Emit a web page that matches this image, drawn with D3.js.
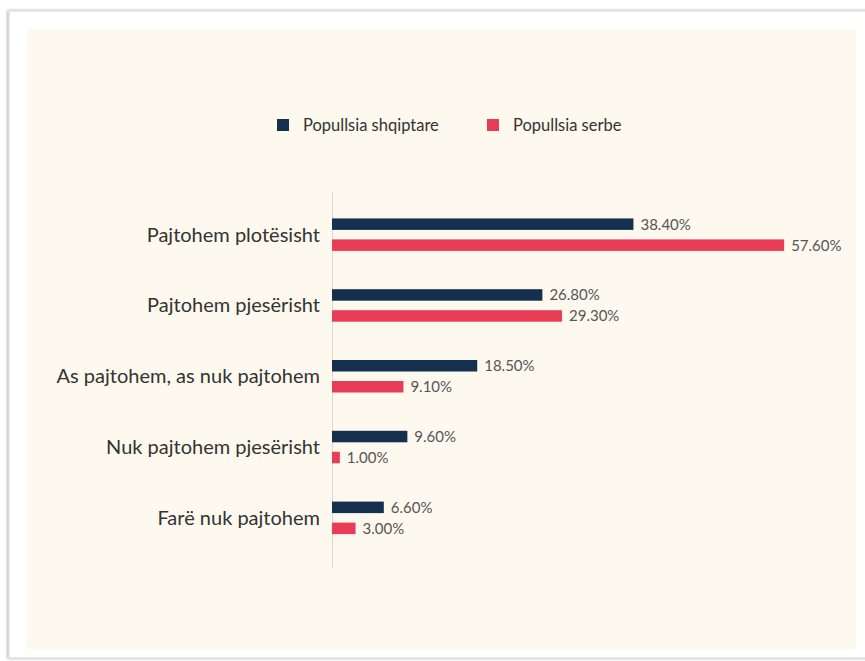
<!DOCTYPE html>
<html>
<head>
<meta charset="utf-8">
<script src="https://cdn.jsdelivr.net/npm/d3@7"></script>
<style>
  html, body { margin: 0; padding: 0; background: #ffffff; }
  svg { display: block; }
</style>
</head>
<body>
<div id="chart"></div>
<script>
// Data
const categories = [
  "Pajtohem plotësisht",
  "Pajtohem pjesërisht",
  "As pajtohem, as nuk pajtohem",
  "Nuk pajtohem pjesërisht",
  "Farë nuk pajtohem"
];
const seriesNames = ["Popullsia shqiptare", "Popullsia serbe"];
const albanianValues = [38.4, 26.8, 18.5, 9.6, 6.6];
const serbianValues = [57.6, 29.3, 9.1, 1.0, 3.0];

// Configuration
const svgWidth = 865;
const svgHeight = 661;
const colors = ["#15304f", "#e93c57"];
const fontFamily = "Lato, 'Noto Sans', sans-serif";

const svg = d3.select("#chart")
  .append("svg")
  .attr("width", svgWidth)
  .attr("height", svgHeight);

// card + shadow
const defs = svg.append("defs");
const shadow = defs.append("filter").attr("id", "shadow")
  .attr("x", "-5%").attr("y", "-5%").attr("width", "110%").attr("height", "110%");
shadow.append("feDropShadow")
  .attr("dx", -1).attr("dy", 0).attr("stdDeviation", 1.5)
  .attr("flood-color", "#000").attr("flood-opacity", 0.35);

svg.append("rect")
  .attr("x", 9).attr("y", 11)
  .attr("width", svgWidth + 20).attr("height", 647)
  .attr("fill", "#ffffff")
  .attr("stroke", "#d8d8d8")
  .attr("stroke-width", 1)
  .attr("filter", "url(#shadow)");

// cream panel
svg.append("rect")
  .attr("x", 27).attr("y", 29)
  .attr("width", 829).attr("height", 620)
  .attr("fill", "#fdf9ef");

// Scales
const x = d3.scaleLinear()
  .domain([0, 60])
  .range([332, 332 + 60 * 7.85]);

const y = d3.scaleBand()
  .domain(categories)
  .range([199, 553])
  .padding(0);

const barH = 11.5;

// axis line
svg.append("line")
  .attr("x1", x(0) + 0.5).attr("x2", x(0) + 0.5)
  .attr("y1", 192).attr("y2", 568)
  .attr("stroke", "#dedad2")
  .attr("stroke-width", 1);

// category labels
const yAxis = d3.axisLeft(y).tickSize(0).tickPadding(12);
const yAxisGroup = svg.append("g")
  .attr("transform", `translate(${x(0)}, 0)`)
  .call(yAxis);
yAxisGroup.select(".domain").remove();
yAxisGroup.selectAll("text")
  .attr("font-family", fontFamily)
  .attr("font-size", "20px")
  .attr("fill", "#333333")
  .attr("dy", "0.36em");

// bars
const rows = categories.map((c, i) => ({
  cat: c,
  vals: [albanianValues[i], serbianValues[i]]
}));

const offsets = [-16, 5];

const group = svg.append("g");
rows.forEach(r => {
  r.vals.forEach((v, j) => {
    const cy = y(r.cat) + y.bandwidth() / 2 + offsets[j];
    group.append("rect")
      .attr("x", x(0))
      .attr("y", cy)
      .attr("width", x(v) - x(0))
      .attr("height", barH)
      .attr("fill", colors[j]);
    group.append("text")
      .attr("x", x(v) + 7)
      .attr("y", cy + barH / 2)
      .attr("dy", "0.36em")
      .attr("font-family", fontFamily)
      .attr("font-size", "15px")
      .attr("fill", "#555555")
      .text(v.toFixed(2) + "%");
  });
});

// legend
const legendX = [277, 487];
const legend = svg.append("g");
seriesNames.forEach((name, i) => {
  legend.append("rect")
    .attr("x", legendX[i]).attr("y", 119)
    .attr("width", 12).attr("height", 12)
    .attr("fill", colors[i]);
  legend.append("text")
    .attr("x", legendX[i] + 26)
    .attr("y", 125)
    .attr("dy", "0.36em")
    .attr("font-family", fontFamily)
    .attr("font-size", "16.5px")
    .attr("fill", "#333333")
    .text(name);
});
</script>
</body>
</html>
